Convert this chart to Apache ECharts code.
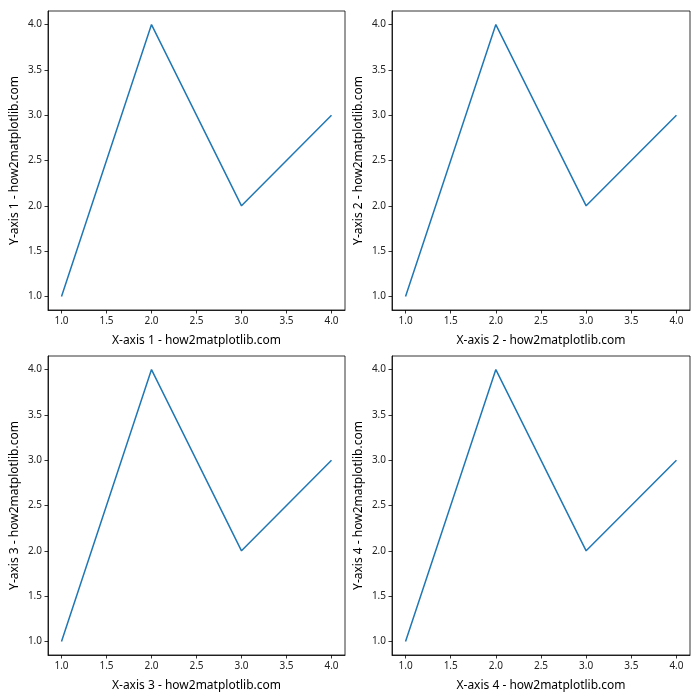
<!DOCTYPE html>
<html><head><meta charset="utf-8">
<script src="https://cdn.jsdelivr.net/npm/echarts@6/dist/echarts.min.js"></script>
<style>html,body{margin:0;padding:0;background:#fff}#c{width:700px;height:700px}</style>
</head><body><div id="c"></div>
<script>
const xValues = [1, 2, 3, 4];
const yValues = [1, 4, 2, 3];
const tickValues = [1.0, 1.5, 2.0, 2.5, 3.0, 3.5, 4.0];
const panelNumbers = [1, 2, 3, 4];

const boxes = [
  {left: 48, top: 11, width: 297, height: 299},
  {left: 392, top: 11, width: 298, height: 299},
  {left: 48, top: 356, width: 297, height: 299},
  {left: 392, top: 356, width: 298, height: 299}
];
const font = 'Noto Sans, DejaVu Sans, sans-serif';
const grids = [], xAxes = [], yAxes = [], series = [];
panelNumbers.forEach((n, i) => {
  grids.push(Object.assign({show: true, borderColor: '#000', borderWidth: 0.8, backgroundColor: 'transparent'}, boxes[i]));
  const common = {
    type: 'value', min: 0.85, max: 4.15, gridIndex: i,
    splitLine: {show: false},
    axisLine: {show: true, lineStyle: {color: '#000', width: 0.8}},
    axisTick: {show: true, inside: false, length: 3.5, lineStyle: {color: '#000', width: 0.8}, customValues: tickValues},
    axisLabel: {show: true, color: '#222', fontSize: 10, fontFamily: font, margin: 6, customValues: tickValues, formatter: v => v.toFixed(1)},
    nameLocation: 'middle',
    nameTextStyle: {fontSize: 12, fontFamily: font, color: '#000'}
  };
  xAxes.push(Object.assign({}, common, {name: 'X-axis ' + n + ' - how2matplotlib.com', nameGap: 25}));
  yAxes.push(Object.assign({}, common, {name: 'Y-axis ' + n + ' - how2matplotlib.com', nameGap: 27}));
  series.push({
    type: 'line', xAxisIndex: i, yAxisIndex: i,
    data: xValues.map((x, k) => [x, yValues[k]]),
    showSymbol: false, symbol: 'none',
    lineStyle: {color: '#1f77b4', width: 1.5},
    animation: false
  });
});
const chart = echarts.init(document.getElementById('c'));
chart.setOption({animation: false, grid: grids, xAxis: xAxes, yAxis: yAxes, series: series});
</script></body></html>
